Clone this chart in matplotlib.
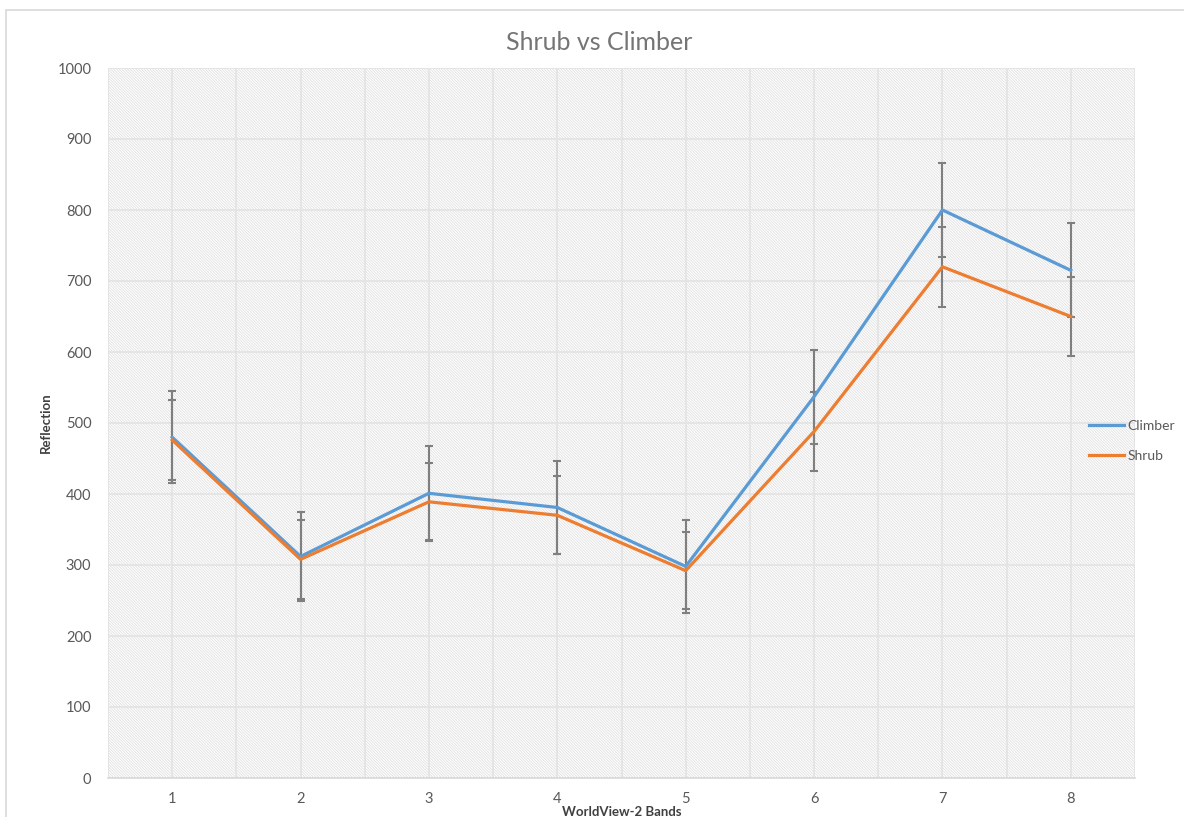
#!/usr/bin/env python3

import matplotlib.pyplot as plt
from matplotlib.patches import Rectangle

bands = [1, 2, 3, 4, 5, 6, 7, 8]
climber = [480, 312, 401, 381, 298, 537, 800, 715]
climber_err = [65, 63, 66, 66, 65, 66, 66, 66]
shrub = [476, 308, 389, 370, 292, 488, 720, 650]
shrub_err = [56, 56, 55, 55, 54, 56, 56, 56]

plt.rcParams['font.family'] = ['Lato', 'DejaVu Sans']
plt.rcParams['hatch.linewidth'] = 0.6

fig = plt.figure(figsize=(11.84, 8.17), dpi=100)
ax = fig.add_axes([108 / 1184, 1 - 778 / 817, 1027 / 1184, 710 / 817])

# chart border (cropped on the right and bottom)
fig.patches.append(Rectangle((6 / 1184, -0.2), 1.2, 1.2 - 10 / 817, transform=fig.transFigure,
                             fill=False, edgecolor='#d9d9d9', lw=1.2))

# hatched plot area
ax.add_patch(Rectangle((0, 0), 1, 1, transform=ax.transAxes, facecolor='white',
                       edgecolor='#e0e0e0', hatch='\\' * 12, lw=0, zorder=0))

ax.set_xlim(0.5, 8.5)
ax.set_ylim(0, 1000)
ax.set_yticks(range(0, 1001, 100))
ax.set_xticks(bands)
ax.set_xticks([b + 0.5 for b in range(0, 9)], minor=True)
ax.grid(True, which='both', color='#e3e3e3', lw=1.2, zorder=1)
ax.set_axisbelow(True)
ax.tick_params(which='both', length=0, colors='#595959', labelsize=10.5)
ax.tick_params(axis='y', pad=12)
ax.tick_params(axis='x', pad=10)
for s in ['top', 'right', 'left']:
    ax.spines[s].set_visible(False)
ax.spines['bottom'].set_color('#d9d9d9')
ax.spines['bottom'].set_linewidth(1.2)

ax.errorbar(bands, climber, yerr=climber_err, fmt='none', ecolor='#7f7f7f',
            elinewidth=1.5, capsize=3, capthick=1.5, zorder=2)
ax.errorbar(bands, shrub, yerr=shrub_err, fmt='none', ecolor='#7f7f7f',
            elinewidth=1.5, capsize=3, capthick=1.5, zorder=2)
ax.plot(bands, climber, color='#5b9bd5', lw=2.3, label='Climber', zorder=3)
ax.plot(bands, shrub, color='#ed7d31', lw=2.3, label='Shrub', zorder=4)

fig.text(599 / 1184, 1 - 42 / 817, 'Shrub vs Climber', color='#757575', fontsize=18,
         ha='center', va='center')
ax.set_xlabel('WorldView-2 Bands', color='#404040', fontsize=9.5, fontweight='bold', labelpad=0)
ax.set_ylabel('Reflection', color='#404040', fontsize=9.5, fontweight='bold', labelpad=4)

ax.legend(loc='center left', bbox_to_anchor=(0.943, 0.475), frameon=False,
          handlelength=2.5, handletextpad=0.3, labelspacing=1.3,
          fontsize=10, labelcolor='#595959')

fig.savefig('out.png', dpi=100)
